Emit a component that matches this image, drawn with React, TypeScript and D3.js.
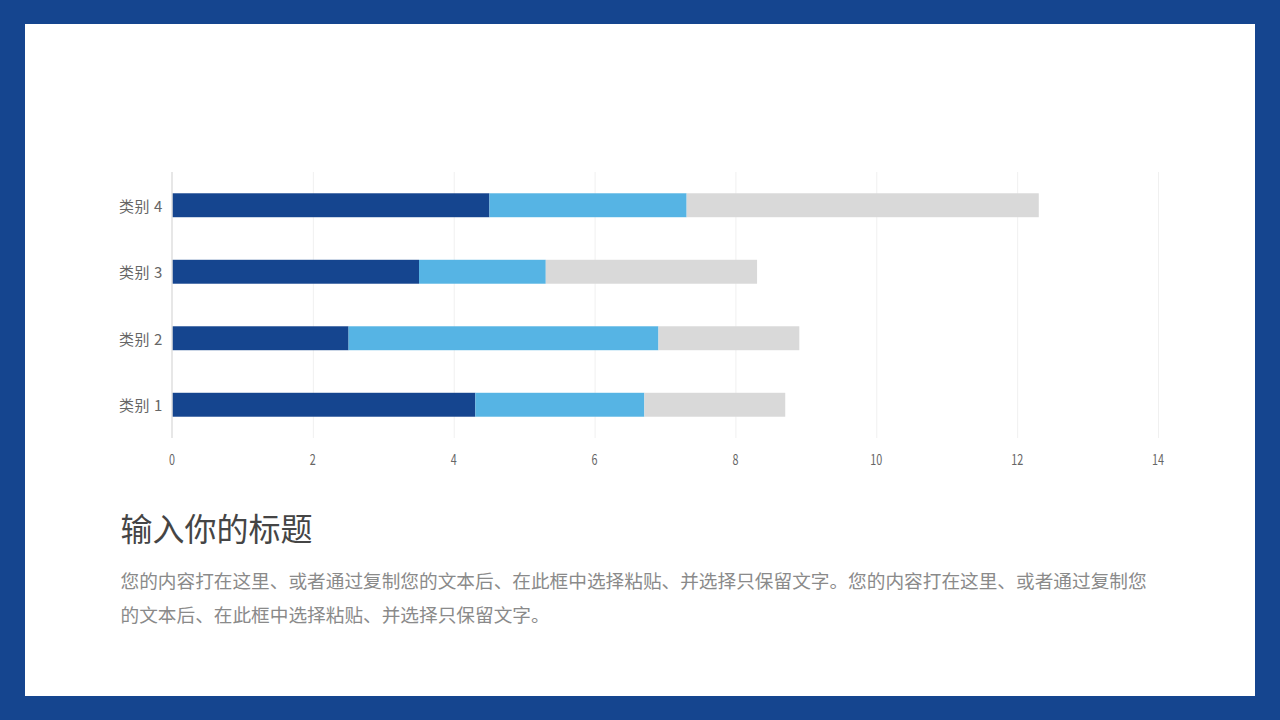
import React, { useEffect, useRef } from "react";
import * as d3 from "d3";

const categories = ["类别 1", "类别 2", "类别 3", "类别 4"];
const seriesA = [4.3, 2.5, 3.5, 4.5];
const seriesB = [2.4, 4.4, 1.8, 2.8];
const seriesC = [2, 2, 3, 5];
const colors = ["#15458f", "#56b4e4", "#d9d9d9"];
const ticks = [0, 2, 4, 6, 8, 10, 12, 14];
const titleText = "输入你的标题";
const bodyLines = [
  "您的内容打在这里、或者通过复制您的文本后、在此框中选择粘贴、并选择只保留文字。您的内容打在这里、或者通过复制您",
  "的文本后、在此框中选择粘贴、并选择只保留文字。",
];

const FONT = '"Noto Sans CJK SC", "Noto Sans", sans-serif';

export default function App() {
  const ref = useRef<SVGSVGElement>(null);
  useEffect(() => {
    const svg = d3.select(ref.current!);
    svg.selectAll("*").remove();
    svg.append("rect").attr("width", 1280).attr("height", 720).attr("fill", "#15458f");
    svg.append("rect").attr("x", 25).attr("y", 24).attr("width", 1230).attr("height", 672).attr("fill", "#fff");

    const x = d3.scaleLinear().domain([0, 14]).range([172.5, 1158.5]);
    const y = d3.scaleBand<string>().domain([...categories].reverse()).range([172, 438]).paddingInner(0.64).paddingOuter(0.32);

    const g = svg.append("g");
    g.selectAll("line.grid").data(ticks.slice(1)).join("line").attr("class", "grid")
      .attr("x1", d => x(d)).attr("x2", d => x(d)).attr("y1", 172).attr("y2", 438)
      .attr("stroke", "#f0f0f0").attr("stroke-width", 1);

    const rows = categories.map((c, i) => ({ c, a: seriesA[i], b: seriesB[i], d: seriesC[i] }));
    const stack = d3.stack<any>().keys(["a", "b", "d"])(rows);
    stack.forEach((layer, k) => {
      g.selectAll(`rect.s${k}`).data(layer).join("rect").attr("class", `s${k}`)
        .attr("x", d => x(d[0])).attr("width", d => x(d[1]) - x(d[0]))
        .attr("y", d => y((d.data as any).c)!).attr("height", y.bandwidth())
        .attr("fill", colors[k]);
    });

    g.append("line").attr("x1", 172).attr("x2", 172).attr("y1", 172).attr("y2", 438)
      .attr("stroke", "#cfcfcf").attr("stroke-width", 1);

    g.selectAll("text.tick").data(ticks).join("text").attr("class", "tick")
      .attr("x", d => x(d) - 0.5).attr("y", 465).attr("text-anchor", "middle")
      .attr("font-family", FONT).attr("font-size", 14.5).attr("fill", "#666666")
      .attr("textLength", d => (d >= 10 ? 12 : 6)).attr("lengthAdjust", "spacingAndGlyphs")
      .text(d => d);

    g.selectAll("text.cat").data(categories).join("text").attr("class", "cat")
      .attr("x", 163).attr("y", d => y(d)! + y.bandwidth() / 2 + 6.5).attr("text-anchor", "end")
      .attr("font-family", FONT).attr("font-size", 15).attr("letter-spacing", 0.6).attr("fill", "#666666")
      .text(d => d);

    svg.append("text").attr("x", 120.5).attr("y", 541).attr("font-family", FONT)
      .attr("font-size", 32).attr("fill", "#454545").text(titleText);

    svg.selectAll("text.body").data(bodyLines).join("text").attr("class", "body")
      .attr("x", 120.5).attr("y", (_, i) => 587.5 + i * 34).attr("font-family", FONT)
      .attr("font-size", 18.67).attr("fill", "#8a8a8a").text(d => d);
  }, []);
  return (
    <svg ref={ref} width={1280} height={720} style={{ position: "absolute", left: 0, top: 0, display: "block" }} />
  );
}
